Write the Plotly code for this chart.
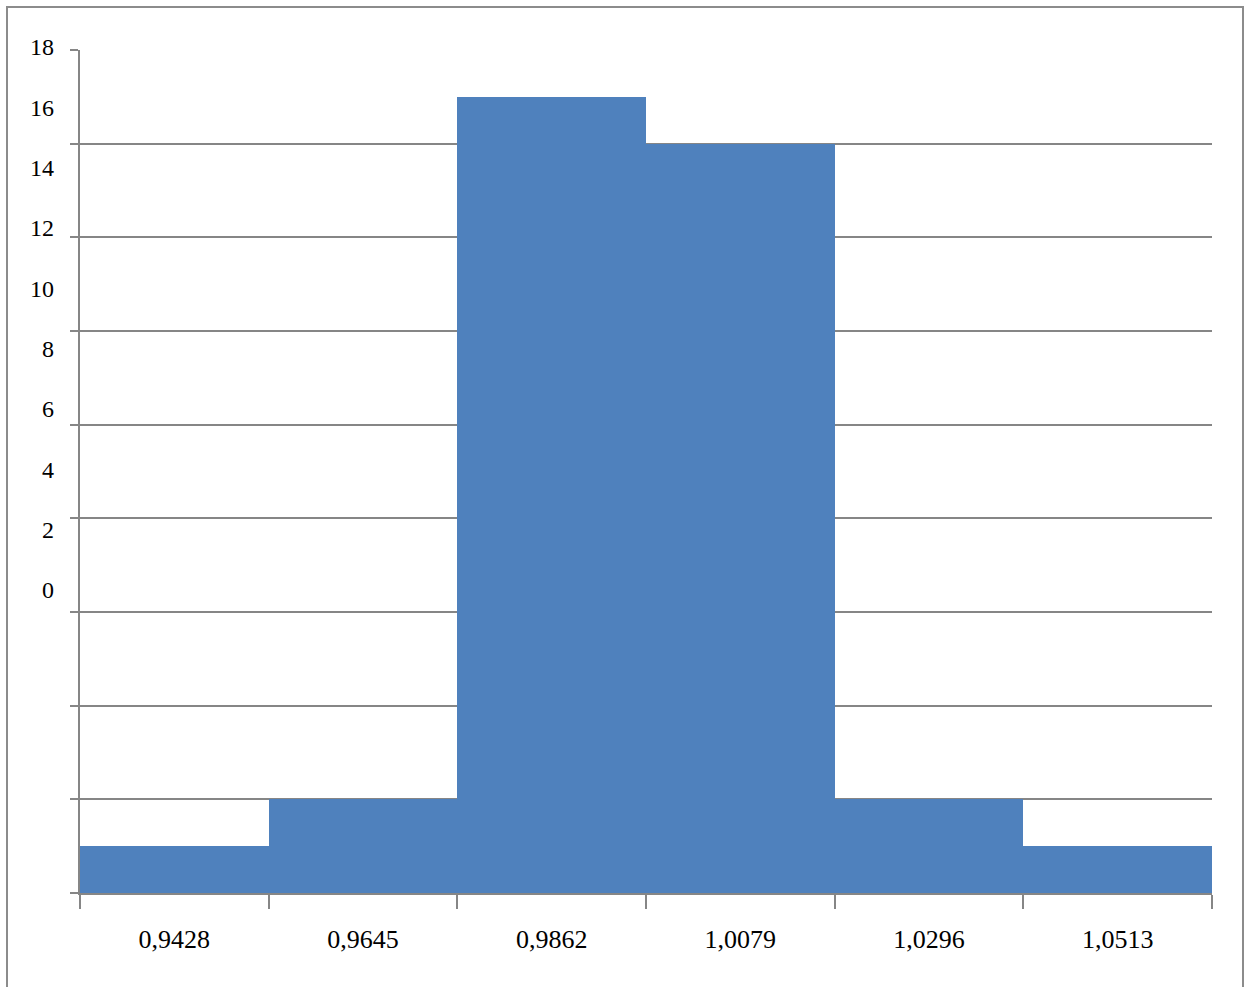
import plotly.graph_objects as go

categories = ["0,9428", "0,9645", "0,9862", "1,0079", "1,0296", "1,0513"]
counts = [1, 2, 17, 16, 2, 1]
y_tick_values = [0, 2, 4, 6, 8, 10, 12, 14, 16, 18]

W, H = 1246, 987
ml, mr, mt, mb = 80, 34, 40, 94
plot_h = H - mt - mb
main_top_px = 50
main_dom_top = (H - mb - main_top_px) / plot_h

# misaligned label axis (as in reference): 0 at px 590, 18 at px 47
lab0_px, lab18_px = 590, 47
ppu = (lab0_px - lab18_px) / 18
d0 = 0.3
bottom_px = (H - mb) - d0 * plot_h
r_top = (lab0_px - mt) / ppu
r_bot = (lab0_px - bottom_px) / ppu

grid = "#868686"
yfont = dict(family="Liberation Serif", size=24, color="black")
xfont = dict(family="Liberation Serif", size=26, color="black")

fig = go.Figure()
fig.add_trace(go.Bar(x=categories, y=counts, marker=dict(color="#4F81BD", line=dict(width=0)),
                     xaxis="x", yaxis="y"))
fig.add_trace(go.Scatter(x=[categories[0]], y=[None], xaxis="x", yaxis="y2",
                         showlegend=False, hoverinfo="skip"))

fig.update_layout(
    width=W, height=H,
    margin=dict(l=ml, r=mr, t=mt, b=mb),
    paper_bgcolor="white", plot_bgcolor="rgba(0,0,0,0)",
    bargap=0, showlegend=False,
    font=yfont,
    xaxis=dict(type="category", domain=[0, 1], tickson="boundaries", ticks="outside",
               ticklen=14, tickwidth=1.5, tickcolor=grid, showline=True, linecolor=grid,
               linewidth=2, showgrid=False, tickfont=xfont, ticklabelstandoff=22),
    yaxis=dict(domain=[0, main_dom_top], range=[0, 18], dtick=2, showticklabels=False,
               showgrid=True, gridcolor=grid, gridwidth=2, ticks="outside", ticklen=8,
               tickcolor=grid, tickwidth=2, showline=True, linecolor=grid, linewidth=2,
               zeroline=False),
    yaxis2=dict(domain=[d0, 1], range=[r_bot, r_top], tickvals=y_tick_values,
                showgrid=False, showline=False, zeroline=False, ticks="",
                anchor="free", position=0, tickfont=yfont, ticklabelstandoff=26),
    shapes=[dict(type="rect", xref="paper", yref="paper",
                 x0=(7 - ml) / (W - ml - mr), x1=(1243 - ml) / (W - ml - mr),
                 y0=(H - mb - 1000) / plot_h, y1=(H - mb - 7) / plot_h,
                 line=dict(color="#8c8c8c", width=2), fillcolor="rgba(0,0,0,0)", layer="below")],
)

fig.write_html("out.html")
